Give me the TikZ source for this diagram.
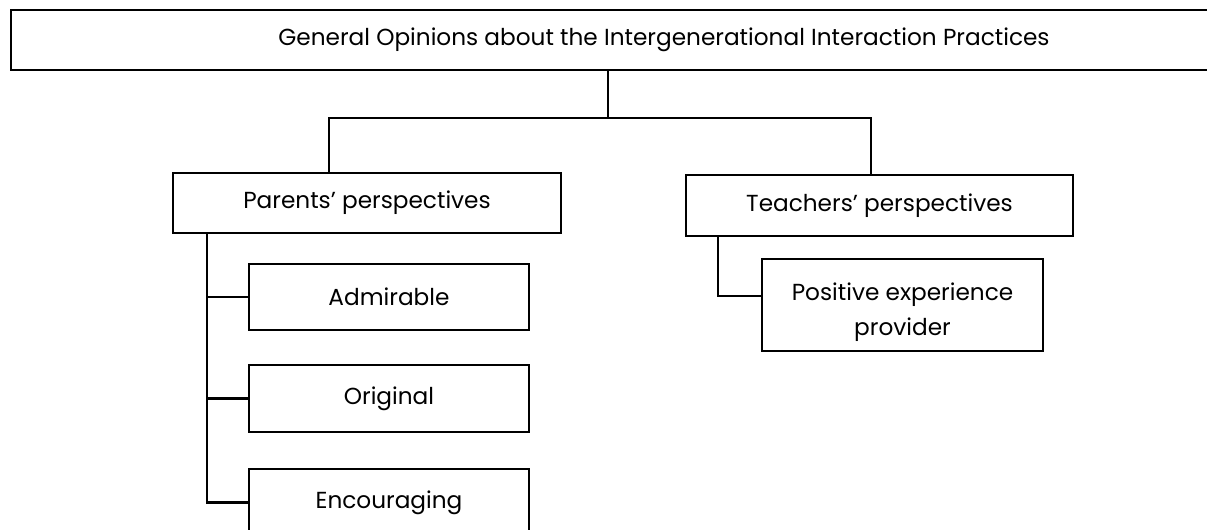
\documentclass[tikz,border=0pt]{standalone}
\usepackage{fontspec}
\setmainfont{Poppins}
\begin{document}
\begin{tikzpicture}[x=0.75pt, y=-0.75pt,
  every node/.style={font=\fontsize{17.4}{27}\selectfont},
  box/.style={draw, line width=1.8pt, rectangle, inner sep=0pt, align=center},
  link/.style={line width=1.8pt}]
\useasboundingbox (0,0) rectangle (1207,530);
\clip (0,0) rectangle (1207,530);

% title box (runs off the right edge)
\node[box, minimum width=1306*0.75pt, minimum height=60*0.75pt] (top) at (664,40)
  {General Opinions about the Intergenerational Interaction Practices};

% second level
\node[box, minimum width=388*0.75pt, minimum height=60*0.75pt] (parents) at (367,203)
  {Parents’ perspectives};
\node[box, minimum width=387*0.75pt, minimum height=61*0.75pt] (teachers) at (879.5,205.5)
  {Teachers’ perspectives};

% parents' items
\node[box, minimum width=280*0.75pt, minimum height=66*0.75pt] (admirable) at (389,297) {Admirable};
\node[box, minimum width=280*0.75pt, minimum height=67*0.75pt] (original) at (389,398.5) {Original};
\node[box, minimum width=280*0.75pt, minimum height=67*0.75pt] (encouraging) at (389,502.5) {Encouraging};

% teachers' item
\node[box, minimum width=281*0.75pt, minimum height=92*0.75pt] (positive) at (902.5,305)
  {\raisebox{-4.5pt}[\height][\depth]{\begin{tabular}{@{}c@{}}Positive experience\\[-0.5pt] provider\end{tabular}}};

% connector anchor points
\coordinate (trunk) at (608,118);
\coordinate (pdrop) at (329,118);
\coordinate (tdrop) at (871,118);
\coordinate (pspine) at (207,0);
\coordinate (tspine) at (718,0);
\coordinate (pbranch) at (762,296);

% tree connectors
\draw[link] (top.south -| trunk) -- (trunk);
\draw[link] (parents.north -| pdrop) -- (pdrop) -- (tdrop) -- (teachers.north -| tdrop);
\draw[link] (parents.south -| pspine) |- (encouraging.west);
\draw[link] (pspine |- admirable.west) -- (admirable.west);
\draw[link] (pspine |- original.west) -- (original.west);
\draw[link] (teachers.south -| tspine) |- (pbranch);
\end{tikzpicture}
\end{document}
